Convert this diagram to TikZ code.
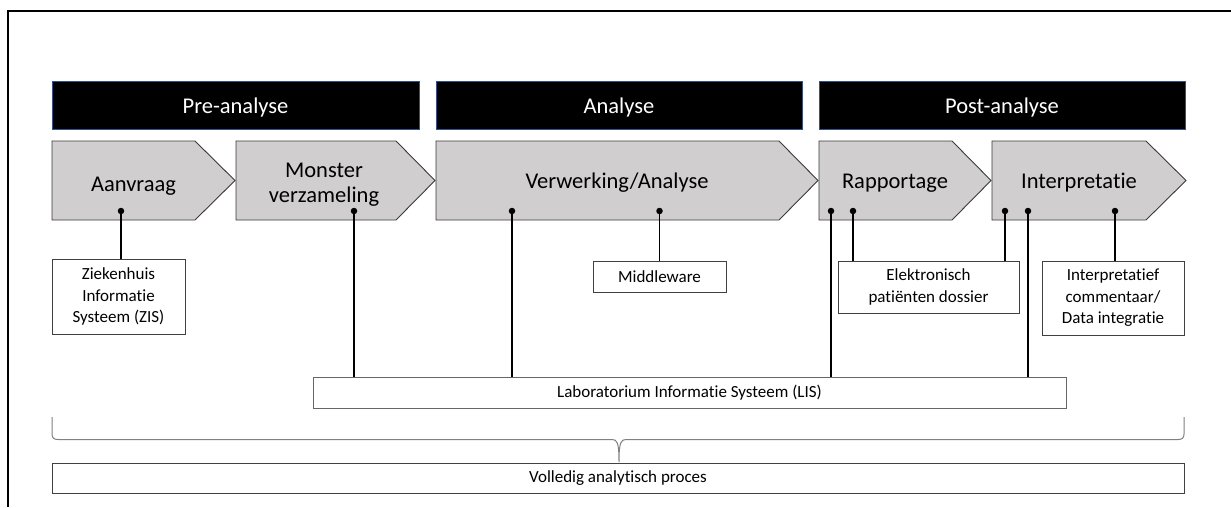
\documentclass[tikz,border=0pt]{standalone}
\usepackage{fontspec}
\setmainfont{Carlito}[Ligatures=NoCommon]
\definecolor{chevfill}{HTML}{D0CECE}
\definecolor{chevline}{HTML}{3A3A3A}
\definecolor{headline}{HTML}{2F528F}
\definecolor{boxline}{HTML}{404040}
\definecolor{braceline}{HTML}{808080}
\tikzset{
  phase/.style={rectangle, fill=black, draw=headline, line width=0.8pt, text=white,
    font=\fontsize{22.5}{27}\selectfont, inner sep=0pt, minimum height=48.5pt,
    text height=16pt, text depth=0.5pt},
  chev/.style={fill=chevfill, draw=chevline, line width=0.9pt, line join=miter},
  chevtext/.style={font=\fontsize{22.5}{25}\selectfont, align=center, inner sep=0pt},
  infobox/.style={rectangle, draw=boxline, line width=0.8pt, fill=white,
    font=\fontsize{17}{21.5}\selectfont, align=center, inner sep=0pt},
  dot/.style={circle, fill=black, inner sep=0pt, minimum size=6.5pt},
  link/.style={draw=black, line width=1.2pt},
}
\begin{document}
\begin{tikzpicture}[x=1pt,y=-1pt]
\useasboundingbox (0,0) rectangle (1231,507);

% outer frame (top and left edges)
\draw[line width=2pt] (8,507) -- (8,11) -- (1231,11);

% phase headers
\node[phase, minimum width=367pt] (pre)  at (235.5,105.25) {Pre-analyse};
\node[phase, minimum width=366pt] (ana)  at (619,105.25)   {Analyse};
\node[phase, minimum width=366pt] (post) at (1002,105.25)  {Post-analyse};

% process chevrons
\draw[chev] (52,141)  -- (195,141) -- (235,180.5) -- (195,220) -- (52,220) -- cycle;
\draw[chev] (236,141) -- (396,141) -- (435,180.5) -- (396,220) -- (236,220) -- cycle;
\draw[chev] (436,141) -- (779,141) -- (818,180.5) -- (779,220) -- (436,220) -- cycle;
\draw[chev] (819,141) -- (952,141) -- (991,180.5) -- (952,220) -- (819,220) -- cycle;
\draw[chev] (992,141) -- (1146,141) -- (1186,180.5) -- (1146,220) -- (992,220) -- cycle;

\node[chevtext, anchor=base] (aanvraag) at (133.5,191)   {Aanvraag};
\node[chevtext] (monster)  at (324,184.5)                 {Monster\\verzameling};
\node[chevtext, anchor=base] (verwerking) at (617,188.3)  {Verwerking/Analyse};
\node[chevtext, anchor=base] (rapport) at (895,188.3)     {Rapportage};
\node[chevtext, anchor=base] (interp)  at (1079,188.3)    {Interpretatie};

% information systems
\node[infobox, minimum width=133pt, minimum height=75pt] (zis) at (118.5,296.5)
  {Ziekenhuis\\Informatie\\Systeem (ZIS)};
\node[infobox, minimum width=133pt, minimum height=31pt] (mw) at (659.5,276.5)
  {Middleware};
\node[infobox, minimum width=181pt, minimum height=52pt] (epd) at (928.5,287)
  {Elektronisch\\patiënten dossier};
\node[infobox, minimum width=142pt, minimum height=74pt] (ipc) at (1113,298)
  {Interpretatief\\commentaar/\\Data integratie};
\node[infobox, draw=braceline!80!black, minimum width=753pt, minimum height=31pt] (lis) at (689.5,392.5)
  {Laboratorium Informatie Systeem (LIS)};
\node[infobox, minimum width=1132pt, minimum height=30pt] (vol) at (618,478)
  {Volledig analytisch proces};

% connection points on the chevrons
\node[dot] (dA)  at (121,211)  {};
\node[dot] (dM)  at (354,211)  {};
\node[dot] (dV1) at (512,211)  {};
\node[dot] (dV2) at (659.5,211) {};
\node[dot] (dR1) at (831,211)  {};
\node[dot] (dR2) at (853,211)  {};
\node[dot] (dI1) at (1005,211) {};
\node[dot] (dI2) at (1028,211) {};
\node[dot] (dI3) at (1115,211) {};

% links to the systems
\draw[link] (dA.center)  -- (dA |- zis.north);
\draw[link] (dV2.center) -- (dV2 |- mw.north);
\draw[link] (dR2.center) -- (dR2 |- epd.north);
\draw[link] (dI1.center) -- (dI1 |- epd.north);
\draw[link] (dI3.center) -- (dI3 |- ipc.north);
\draw[link] (dM.center)  -- (dM |- lis.north);
\draw[link] (dV1.center) -- (dV1 |- lis.north);
\draw[link] (dR1.center) -- (dR1 |- lis.north);
\draw[link] (dI2.center) -- (dI2 |- lis.north);

% brace spanning the whole process
\draw[draw=braceline, line width=1pt]
  (52,417) -- (52,434) .. controls (52,438) and (54,439.5) .. (58,439.5)
  -- (612,439.5) .. controls (617,439.5) and (619,442) .. (619,462)
  .. controls (619,442) and (621,439.5) .. (626,439.5)
  -- (1178,439.5) .. controls (1182,439.5) and (1184,438) .. (1184,434)
  -- (1184,417);
\end{tikzpicture}
\end{document}
